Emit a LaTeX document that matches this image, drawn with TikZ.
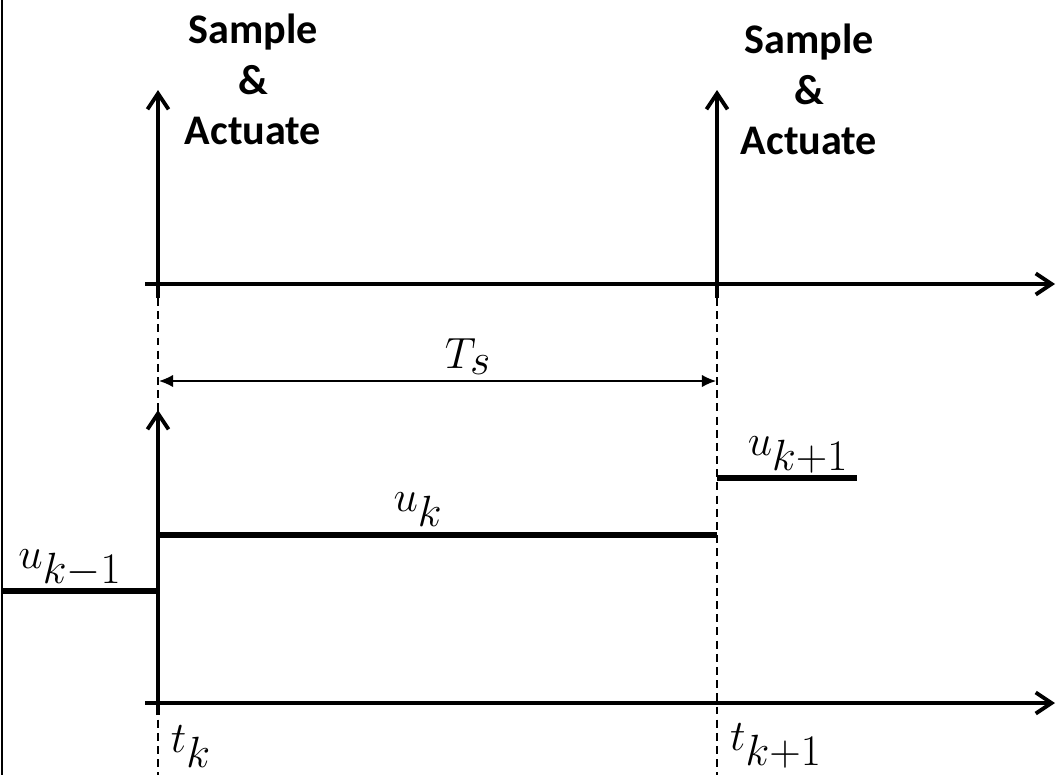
\documentclass[tikz,border=0pt]{standalone}
\usepackage{fontspec}
\setmainfont{Carlito}
\usetikzlibrary{arrows.meta,positioning}

\begin{document}
\begin{tikzpicture}[x=0.02cm, y=-0.02cm, >={Straight Barb[length=9pt,width=12pt]},
    axis/.style={->, line width=2.2pt},
    level/.style={line width=3.4pt},
    guide/.style={line width=0.8pt, dash pattern=on 4.5pt off 3pt},
    period/.style={{Latex[length=8pt,width=7pt]}-{Latex[length=8pt,width=7pt]}, line width=0.8pt},
    event/.style={font=\fontsize{24}{28.5}\selectfont\bfseries, align=center, inner sep=0pt, anchor=north},
    sym/.style={font=\fontsize{35}{40}\selectfont, inner sep=0pt, anchor=base}]
  \useasboundingbox (0,0) rectangle (1057,775);

  % sampling instants and time axes
  \coordinate (tk0) at (158,298);  \coordinate (tk0top) at (158,90);
  \coordinate (tk1) at (717,298);  \coordinate (tk1top) at (717,90);
  \coordinate (tk0end) at (158,775); \coordinate (tk1end) at (717,775);
  \coordinate (uk0) at (158,715);  \coordinate (uk0top) at (158,410);
  \coordinate (ax1) at (145,284);  \coordinate (ax1end) at (1055,284);
  \coordinate (ax2) at (145,703);  \coordinate (ax2end) at (1055,703);
  \coordinate (ts0) at (159,381);  \coordinate (ts1) at (716,381);

  % held control values
  \coordinate (prev0) at (3,591);   \coordinate (prev1) at (158,591);
  \coordinate (cur0) at (158,535);  \coordinate (cur1) at (717,535);
  \coordinate (next0) at (717,478); \coordinate (next1) at (857,478);

  \draw[line width=1.2pt] (2,0) -- (2,775);
  \draw[guide] (tk0) -- (tk0end);
  \draw[guide] (tk1) -- (tk1end);

  \draw[level] (prev0) -- (prev1);
  \draw[level] (cur0) -- (cur1);
  \draw[level] (next0) -- (next1);

  \draw[axis] (ax1) -- (ax1end);
  \draw[axis] (ax2) -- (ax2end);
  \draw[axis] (tk0) -- (tk0top);
  \draw[axis] (tk1) -- (tk1top);
  \draw[axis] (uk0) -- (uk0top);
  \draw[period] (ts0) -- (ts1);

  \node[event] (sa0) at (253,14) {Sample\\\&\\Actuate};
  \node[event] (sa1) at (809,24) {Sample\\\&\\Actuate};

  \node[sym] (Ts) at (468,368) {$T_s$};
  \node[sym] (uprev) at (70,568) {$u_{k-1}$};
  \node[sym] (ucur) at (418,511) {$u_k$};
  \node[sym] (unext) at (798,455) {$u_{k+1}$};
  \node[sym] (tkl) at (191,752) {$t_k$};
  \node[sym] (tknl) at (776,750) {$t_{k+1}$};
\end{tikzpicture}
\end{document}
